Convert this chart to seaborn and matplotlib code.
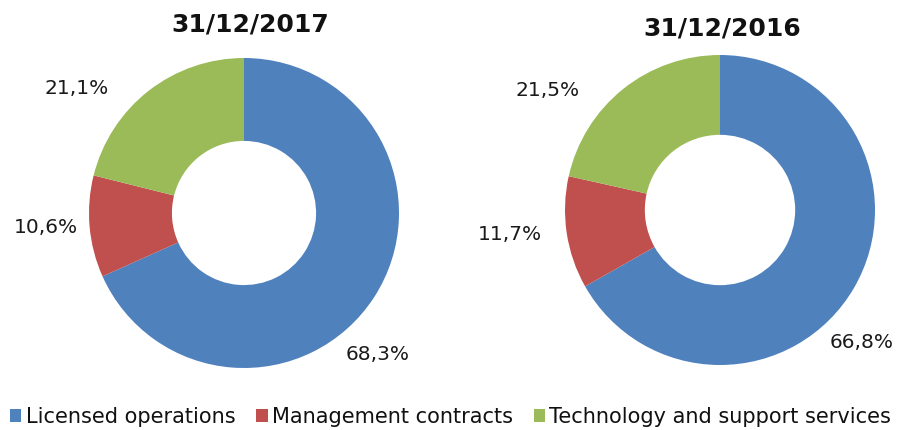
import matplotlib
matplotlib.use("Agg")
import matplotlib.pyplot as plt
import seaborn as sns
from matplotlib.patches import Patch

sns.set_theme(style="white")
plt.rcParams['font.family'] = ['DejaVu Sans']

# data
categories = ["Licensed operations", "Management contracts", "Technology and support services"]
titles = ["31/12/2017", "31/12/2016"]
values_2017 = [68.3, 10.6, 21.1]
values_2016 = [66.8, 11.7, 21.5]
colors = ["#4F81BD", "#C0504D", "#9BBB59"]

W, H = 901, 430
fig = plt.figure(figsize=(W / 100, H / 100), dpi=100, facecolor="white")

R = 155  # donut radius in px
S = 400  # axes size in px
lim = S / 2 / R


def add_donut(cx, cy, vals, title, tx, ty, label_pos, hole):
    ax = fig.add_axes([(cx - S / 2) / W, 1 - (cy + S / 2) / H, S / W, S / H])
    ax.pie(vals, colors=colors, startangle=90, counterclock=False,
           radius=1, wedgeprops=dict(width=1 - hole, edgecolor="none"))
    ax.set_xlim(-lim, lim)
    ax.set_ylim(-lim, lim)
    ax.set_aspect("equal")
    ax.axis("off")
    # data labels placed like the original's "best fit"
    for v, (lx, ly) in zip(vals, label_pos):
        fig.text(lx / W, 1 - ly / H, f"{v:.1f}%".replace(".", ","),
                 ha="center", va="center", fontsize=14.5, color="#1a1a1a")
    fig.text(tx / W, 1 - ty / H, title, ha="center", va="center",
             fontsize=18, fontweight="bold", color="#111111")


add_donut(244, 213, values_2017, titles[0], 250, 25,
          [(378, 355), (46, 228), (77, 88)], 0.465)
add_donut(720, 210, values_2016, titles[1], 722, 28,
          [(862, 343), (510, 235), (548, 90)], 0.485)

handles = [Patch(facecolor=c, edgecolor="none") for c in colors]
fig.legend(handles, categories, loc="center", bbox_to_anchor=(0.5, 1 - 417 / H),
           ncol=3, frameon=False, fontsize=15, handlelength=0.55, handleheight=0.55,
           handletextpad=0.2, columnspacing=1.0, borderaxespad=0,
           labelcolor="#111111")

fig.savefig("out.png", dpi=100, facecolor="white")
